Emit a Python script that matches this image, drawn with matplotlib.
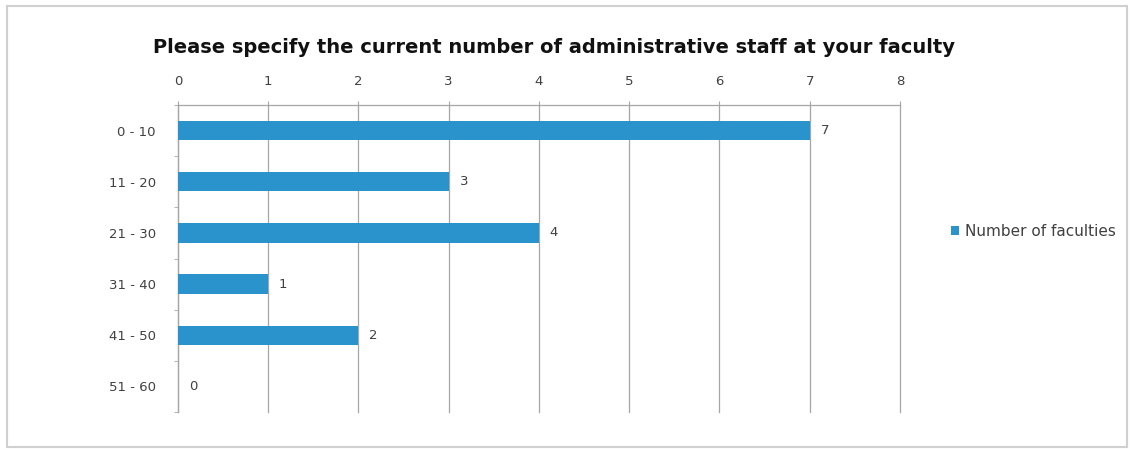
import matplotlib.pyplot as plt
from matplotlib.patches import Rectangle
import numpy as np

plt.rcParams['font.family'] = ['DejaVu Sans']

# survey answers: staff band -> number of faculties
bands = ["0 - 10", "11 - 20", "21 - 30", "31 - 40", "41 - 50", "51 - 60"]
faculties = [7, 3, 4, 1, 2, 0]
x_ticks = [0, 1, 2, 3, 4, 5, 6, 7, 8]

bar_col = "#2a93cc"
grid_col = "#a6a6a6"
text_col = "#404040"

fig = plt.figure(figsize=(11.32, 4.5), dpi=100)
ax = fig.add_axes([0.1572, 0.0844, 0.795 - 0.1572, 0.7667 - 0.0844])

y = np.arange(len(bands))
ax.barh(y, faculties, height=0.38, color=bar_col, zorder=3,
        label="Number of faculties")
for yi, v in zip(y, faculties):
    ax.text(v + 0.12, yi, str(v), va="center", ha="left",
            fontsize=9.5, color=text_col)

ax.set_xlim(0, 8)
ax.set_ylim(len(bands) - 0.5, -0.5)
ax.set_yticks(y)
ax.set_yticklabels(bands)
ax.set_yticks(np.arange(len(bands) + 1) - 0.5, minor=True)
ax.set_xticks(x_ticks)

ax.xaxis.tick_top()
ax.tick_params(axis="x", direction="out", length=3, color=grid_col,
               labelsize=9.5, labelcolor=text_col, pad=9)
ax.tick_params(axis="y", which="major", length=0, labelsize=9.5,
               labelcolor=text_col, pad=16)
ax.tick_params(axis="y", which="minor", direction="out", length=3,
               color=grid_col)

ax.grid(axis="x", color=grid_col, lw=0.9, zorder=0)
for gl in ax.get_xgridlines():
    gl.set_clip_on(False)
for s in ("right", "bottom"):
    ax.spines[s].set_visible(False)
for s in ("top", "left"):
    ax.spines[s].set_color(grid_col)
    ax.spines[s].set_linewidth(0.9)

fig.text(0.4894, 0.895,
         "Please specify the current number of administrative staff at your faculty",
         ha="center", va="center", fontsize=14, fontweight="bold", color="#111111")

fig.legend(loc="center left", bbox_to_anchor=(0.828, 0.485), frameon=False,
           fontsize=11, labelcolor=text_col, handlelength=0.5, handleheight=0.5,
           handletextpad=0.4)

# outer frame
fig.patches.append(Rectangle((0.006, 0.007), 0.99, 0.98, transform=fig.transFigure,
                             fill=False, edgecolor="#d0d0d0", lw=1.5))

fig.savefig("out.png", dpi=100)
